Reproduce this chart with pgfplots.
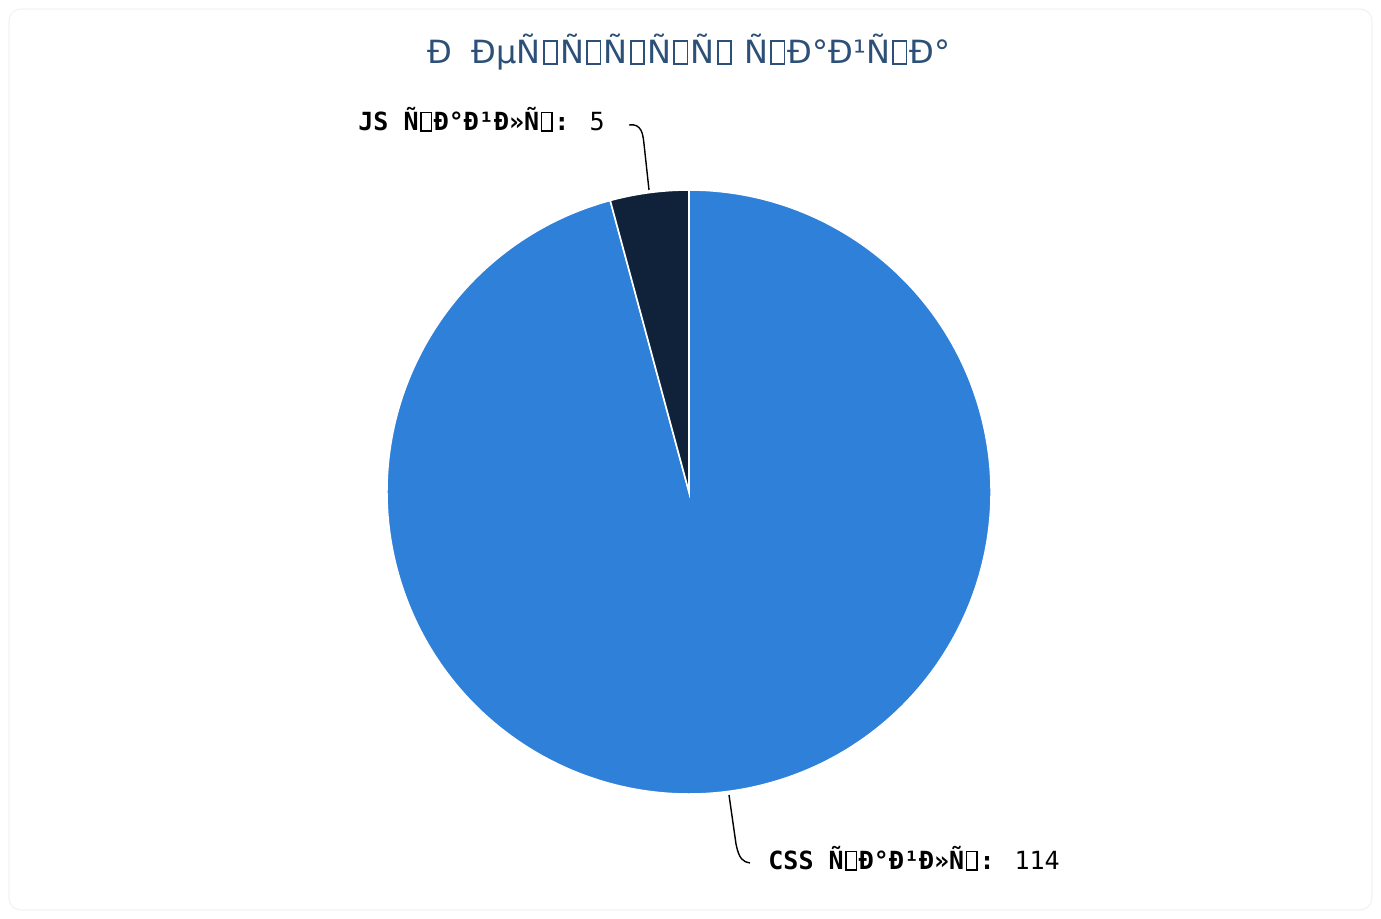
\documentclass[border=0pt]{standalone}
\usepackage{pgfplots}
\pgfplotsset{compat=1.18}
\usepackage{pgfplotstable}
\usepackage{fontspec}
\setmainfont{DejaVu Sans}
\newfontfamily\monofont{DejaVu Sans Mono}

\definecolor{cssblue}{HTML}{2F80D9}
\definecolor{jsnavy}{HTML}{0F2239}
\definecolor{titleblue}{HTML}{2C5077}

% empty box standing for a character the font cannot show
\newcommand\bx{\kern0.07em\begingroup\setlength\fboxsep{0pt}\setlength\fboxrule{0.055em}%
  \fbox{\rule{0pt}{0.68em}\rule{0.36em}{0pt}}\endgroup\kern0.07em}

\pgfplotstableread{
name value
JS 5
CSS 114
}\piedata

\begin{document}
\begin{tikzpicture}
\pgfplotstablegetelem{0}{value}\of\piedata \let\vjs\pgfplotsretval
\pgfplotstablegetelem{1}{value}\of\piedata \let\vcss\pgfplotsretval
\pgfmathsetmacro\ajs{360*\vjs/(\vjs+\vcss)}
\begin{axis}[
  scale only axis, width=690.5pt, height=459.5pt,
  xmin=0, xmax=1381, ymin=0, ymax=919,
  hide axis, clip=false,
]
% full page extent
\path (axis cs:0,0) rectangle (axis cs:1381,919);
% card outline
\draw[black!5, line width=0.6pt, rounded corners=6pt] (axis cs:9,9) rectangle (axis cs:1372,910);
% slices (pixel coords, y flipped)
\filldraw[cssblue, draw=white, line width=0.8pt] (axis cs:689,427)
  -- (axis cs:{689+302*cos(90+\ajs)},{427+302*sin(90+\ajs)})
  arc[start angle=90+\ajs, end angle=450, radius=151pt] -- cycle;
\filldraw[jsnavy, draw=white, line width=0.8pt] (axis cs:689,427)
  -- (axis cs:689,729)
  arc[start angle=90, end angle=90+\ajs, radius=151pt] -- cycle;
% leader lines
\draw[black, line width=0.7pt] (axis cs:629,794) .. controls (axis cs:642,796) and (axis cs:643,784) .. (axis cs:644,775) -- (axis cs:649,729);
\draw[black, line width=0.7pt] (axis cs:729,124) -- (axis cs:736,75) .. controls (axis cs:739,60) and (axis cs:743,57) .. (axis cs:750,56);
% texts
\node[font=\fontsize{16}{19}\selectfont, text=titleblue] at (axis cs:689,867)
  {Ð\hspace{0.6em}ÐµÑ\bx Ñ\bx Ñ\bx Ñ\bx Ñ\bx\ Ñ\bx Ð°Ð¹Ñ\bx Ð°};
\node[anchor=mid east, inner sep=0pt, font=\monofont\fontsize{12.5}{15}\selectfont] at (axis cs:605,794)
  {\textbf{JS Ñ\bx Ð°Ð¹Ð»Ñ\bx:} 5};
\node[anchor=mid west, inner sep=0pt, font=\monofont\fontsize{12.5}{15}\selectfont] at (axis cs:768,55)
  {\textbf{CSS Ñ\bx Ð°Ð¹Ð»Ñ\bx:} 114};
\end{axis}
\end{tikzpicture}
\end{document}
